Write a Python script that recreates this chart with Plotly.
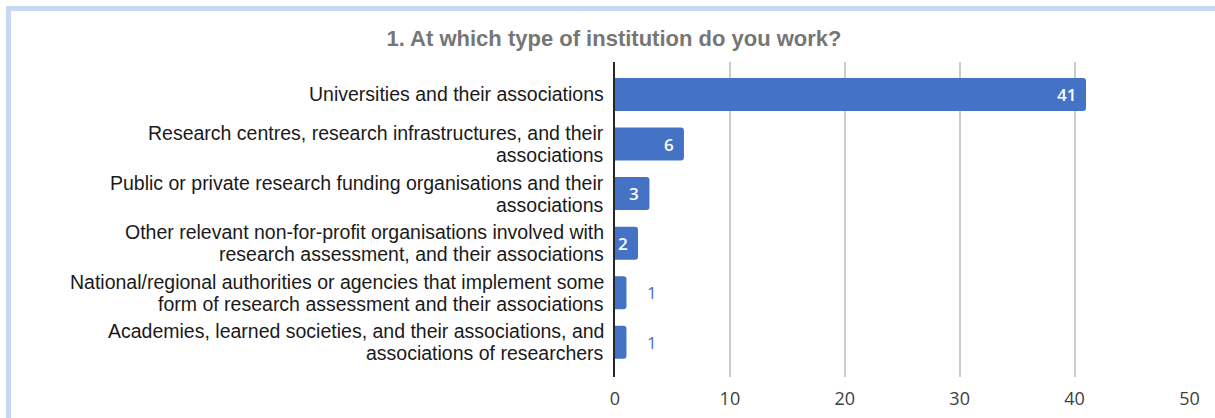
import plotly.graph_objects as go

# Survey question 1: type of institution of respondents
categories = [
    "Universities and their associations",
    "Research centres, research infrastructures, and their<br>associations",
    "Public or private research funding organisations and their<br>associations",
    "Other relevant non-for-profit organisations involved with<br>research assessment, and their associations",
    "National/regional authorities or agencies that implement some<br>form of research assessment and their associations",
    "Academies, learned societies, and their associations, and<br>associations of researchers",
]
responses = [41, 6, 3, 2, 1, 1]
x_ticks = [0, 10, 20, 30, 40, 50]

BAR_BLUE = "#4472c4"
W, H = 1215, 418
M_L, M_R, M_T, M_B = 615, 25, 62, 41
LABEL_SIZE = 19.5
LABEL_LEADING = 22  # px between lines of a wrapped category label

fig = go.Figure(
    go.Bar(
        x=responses,
        y=categories,
        orientation="h",
        width=0.665,
        marker=dict(color=BAR_BLUE, line=dict(width=0), cornerradius=3),
        hoverinfo="x",
    )
)

# category labels, one text line per annotation for a tight leading
for cat in categories:
    lines = cat.split("<br>")
    k = len(lines)
    for i, line in enumerate(lines):
        fig.add_annotation(
            x=0,
            y=cat,
            xref="paper",
            yref="y",
            text=line,
            showarrow=False,
            xanchor="right",
            yanchor="middle",
            xshift=-9,
            yshift=((k - 1) / 2 - i) * LABEL_LEADING,
            font=dict(family="Liberation Sans, Arial", size=LABEL_SIZE, color="#1a1a1a"),
        )

# value labels: inside the bar end when the bar is wide enough, otherwise to its right
for cat, val in zip(categories, responses):
    inside = val >= 2
    fig.add_annotation(
        x=val,
        y=cat,
        xref="x",
        yref="y",
        text=str(val),
        showarrow=False,
        xanchor="right" if inside else "left",
        xshift=-8 if inside else 19,
        font=dict(family="Open Sans", size=17, weight=600 if inside else 400,
                  color="white" if inside else BAR_BLUE),
    )

# light blue frame along the top and left edges
pw = W - M_L - M_R
ph = H - M_T - M_B
def px_x(p):
    return (p - M_L) / pw
def px_y(p):
    return (H - M_B - p) / ph

fig.add_shape(
    type="rect",
    xref="paper", yref="paper",
    x0=px_x(8.5), x1=px_x(W + 20),
    y0=px_y(H + 20), y1=px_y(8.5),
    line=dict(color="#c6d9f1", width=5),
    fillcolor="rgba(0,0,0,0)",
    layer="below",
)

n = len(categories)
fig.update_layout(
    width=W,
    height=H,
    margin=dict(l=M_L, r=M_R, t=M_T, b=M_B, pad=0),
    paper_bgcolor="white",
    plot_bgcolor="white",
    showlegend=False,
    title=dict(
        text="<b>1. At which type of institution do you work?</b>",
        x=614 / W,
        xref="container",
        xanchor="center",
        y=1 - 38 / H,
        yref="container",
        yanchor="middle",
        font=dict(family="Liberation Sans, Arial", size=22, color="#767676"),
    ),
    xaxis=dict(
        range=[0, 50.05],
        tickvals=x_ticks,
        ticktext=[str(t) for t in x_ticks],
        showgrid=True,
        gridcolor="#cccccc",
        gridwidth=1.5,
        zeroline=False,
        showline=False,
        ticks="outside",
        ticklen=5,
        tickcolor="rgba(0,0,0,0)",
        tickfont=dict(family="Open Sans", size=18, color="#404040"),
        automargin=False,
        fixedrange=True,
    ),
    yaxis=dict(
        range=[n - 1 + 0.7, -0.655],
        showgrid=False,
        zeroline=False,
        showline=True,
        linecolor="#262626",
        linewidth=1.5,
        ticks="",
        showticklabels=False,
        automargin=False,
        fixedrange=True,
    ),
)

fig.write_html("out.html")
